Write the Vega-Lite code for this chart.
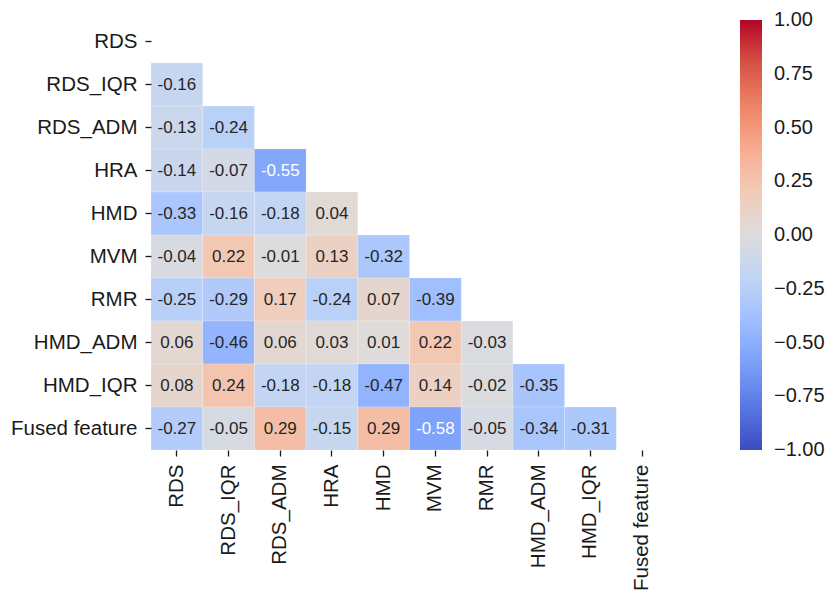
{
  "$schema": "https://vega.github.io/schema/vega-lite/v6.json",
  "autosize": "none",
  "width": 517,
  "height": 430,
  "padding": {"left": 151, "top": 20, "right": 161, "bottom": 141},
  "config": {
    "view": {"stroke": null},
    "font": "Liberation Sans",
    "locale": {"number": {"decimal": ".", "thousands": ",", "grouping": [3], "currency": ["$", ""], "minus": "-"}}
  },
  "data": {"values": [
    {"r": "RDS_IQR", "c": "RDS", "v": -0.16},
    {"r": "RDS_ADM", "c": "RDS", "v": -0.13},
    {"r": "RDS_ADM", "c": "RDS_IQR", "v": -0.24},
    {"r": "HRA", "c": "RDS", "v": -0.14},
    {"r": "HRA", "c": "RDS_IQR", "v": -0.07},
    {"r": "HRA", "c": "RDS_ADM", "v": -0.55},
    {"r": "HMD", "c": "RDS", "v": -0.33},
    {"r": "HMD", "c": "RDS_IQR", "v": -0.16},
    {"r": "HMD", "c": "RDS_ADM", "v": -0.18},
    {"r": "HMD", "c": "HRA", "v": 0.04},
    {"r": "MVM", "c": "RDS", "v": -0.04},
    {"r": "MVM", "c": "RDS_IQR", "v": 0.22},
    {"r": "MVM", "c": "RDS_ADM", "v": -0.01},
    {"r": "MVM", "c": "HRA", "v": 0.13},
    {"r": "MVM", "c": "HMD", "v": -0.32},
    {"r": "RMR", "c": "RDS", "v": -0.25},
    {"r": "RMR", "c": "RDS_IQR", "v": -0.29},
    {"r": "RMR", "c": "RDS_ADM", "v": 0.17},
    {"r": "RMR", "c": "HRA", "v": -0.24},
    {"r": "RMR", "c": "HMD", "v": 0.07},
    {"r": "RMR", "c": "MVM", "v": -0.39},
    {"r": "HMD_ADM", "c": "RDS", "v": 0.06},
    {"r": "HMD_ADM", "c": "RDS_IQR", "v": -0.46},
    {"r": "HMD_ADM", "c": "RDS_ADM", "v": 0.06},
    {"r": "HMD_ADM", "c": "HRA", "v": 0.03},
    {"r": "HMD_ADM", "c": "HMD", "v": 0.01},
    {"r": "HMD_ADM", "c": "MVM", "v": 0.22},
    {"r": "HMD_ADM", "c": "RMR", "v": -0.03},
    {"r": "HMD_IQR", "c": "RDS", "v": 0.08},
    {"r": "HMD_IQR", "c": "RDS_IQR", "v": 0.24},
    {"r": "HMD_IQR", "c": "RDS_ADM", "v": -0.18},
    {"r": "HMD_IQR", "c": "HRA", "v": -0.18},
    {"r": "HMD_IQR", "c": "HMD", "v": -0.47},
    {"r": "HMD_IQR", "c": "MVM", "v": 0.14},
    {"r": "HMD_IQR", "c": "RMR", "v": -0.02},
    {"r": "HMD_IQR", "c": "HMD_ADM", "v": -0.35},
    {"r": "Fused feature", "c": "RDS", "v": -0.27},
    {"r": "Fused feature", "c": "RDS_IQR", "v": -0.05},
    {"r": "Fused feature", "c": "RDS_ADM", "v": 0.29},
    {"r": "Fused feature", "c": "HRA", "v": -0.15},
    {"r": "Fused feature", "c": "HMD", "v": 0.29},
    {"r": "Fused feature", "c": "MVM", "v": -0.58},
    {"r": "Fused feature", "c": "RMR", "v": -0.05},
    {"r": "Fused feature", "c": "HMD_ADM", "v": -0.34},
    {"r": "Fused feature", "c": "HMD_IQR", "v": -0.31}
  ]},
  "encoding": {
    "x": {
      "field": "c", "type": "nominal",
      "scale": {"domain": ["RDS", "RDS_IQR", "RDS_ADM", "HRA", "HMD", "MVM", "RMR", "HMD_ADM", "HMD_IQR", "Fused feature"], "paddingInner": 0, "paddingOuter": 0},
      "axis": {"title": null, "labelAngle": -90, "labelFontSize": 20.5, "labelColor": "#1a1a1a", "domain": false, "tickSize": 6, "tickColor": "#1a1a1a", "tickWidth": 1.3, "labelPadding": 8}
    },
    "y": {
      "field": "r", "type": "nominal",
      "scale": {"domain": ["RDS", "RDS_IQR", "RDS_ADM", "HRA", "HMD", "MVM", "RMR", "HMD_ADM", "HMD_IQR", "Fused feature"], "paddingInner": 0, "paddingOuter": 0},
      "axis": {"title": null, "labelFontSize": 20.5, "labelColor": "#1a1a1a", "domain": false, "tickSize": 6, "tickColor": "#1a1a1a", "tickWidth": 1.3, "labelPadding": 8}
    }
  },
  "layer": [
    {
      "mark": {"type": "rect", "stroke": "#ffffff", "strokeWidth": 0.4, "strokeOpacity": 0.5},
      "encoding": {
        "color": {
          "field": "v", "type": "quantitative",
          "scale": {
            "domain": [-1, -0.8, -0.6, -0.4, -0.2, 0, 0.2, 0.4, 0.6, 0.8, 1],
            "range": ["#3b4cc0", "#5977e3", "#7b9ff9", "#9ebeff", "#c0d4f5", "#dddcdc", "#f2cbb7", "#f7ac8e", "#ee8468", "#d65244", "#b40426"],
            "interpolate": "rgb"
          },
          "legend": {
            "title": null,
            "orient": "none",
            "legendX": 589,
            "legendY": 0,
            "direction": "vertical",
            "gradientLength": 430,
            "gradientThickness": 22,
            "gradientStrokeWidth": 0,
            "values": [-1, -0.75, -0.5, -0.25, 0, 0.25, 0.5, 0.75, 1],
            "format": ".2f",
            "labelExpr": "replace(datum.label, '-', '\u2212')",
            "labelFontSize": 20,
            "labelColor": "#1a1a1a",
            "labelOffset": 12,
            "encode": {"labels": {"update": {"baseline": {"value": "middle"}}}}
          }
        }
      }
    },
    {
      "mark": {"type": "text", "fontSize": 17},
      "encoding": {
        "text": {"field": "v", "type": "quantitative", "format": ".2f"},
        "color": {
          "condition": {"test": "abs(datum.v) > 0.5", "value": "#ffffff"},
          "value": "#262626"
        }
      }
    }
  ]
}
